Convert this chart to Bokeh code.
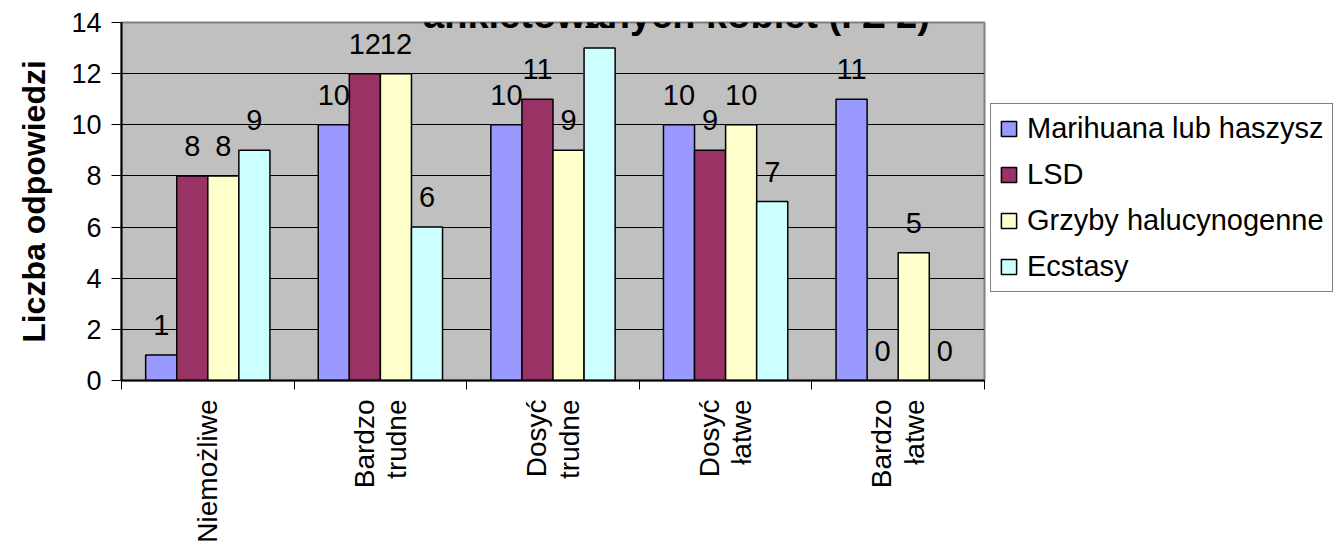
from bokeh.plotting import figure
from bokeh.models import (ColumnDataSource, FixedTicker, Legend, LegendItem, LabelSet, Label, Range1d)
from bokeh.transform import dodge
from bokeh.embed import file_html
from bokeh.resources import INLINE
from bokeh.core.properties import value

categories = ["Niemożliwe", "Bardzo\ntrudne", "Dosyć\ntrudne", "Dosyć\nłatwe", "Bardzo\nłatwe"]
series_names = ["Marihuana lub haszysz", "LSD", "Grzyby halucynogenne", "Ecstasy"]
marihuana = [1, 10, 10, 10, 11]
lsd = [8, 12, 11, 9, 0]
grzyby = [8, 12, 9, 10, 5]
ecstasy = [9, 6, 13, 7, 0]
colors = ["#9999FF", "#993366", "#FFFFCC", "#CCFFFF"]
y_ticks = [0, 2, 4, 6, 8, 10, 12, 14]
title_text = "ankietowanych kobiet (I Z 2)"
y_label = "Liczba odpowiedzi"

FONT = "Liberation Sans"
n = len(categories)
centers = [i + 0.5 for i in range(n)]
bounds = [float(i) for i in range(n + 1)]

src = ColumnDataSource(dict(xc=centers, m=marihuana, l=lsd, g=grzyby, e=ecstasy,
                            ml=[str(v) for v in marihuana], ll=[str(v) for v in lsd],
                            gl=[str(v) for v in grzyby], el=[str(v) for v in ecstasy]))

p = figure(frame_width=863, frame_height=358, output_backend="svg", toolbar_location=None,
           x_range=Range1d(0, n), y_range=Range1d(0, 14),
           min_border_left=121, min_border_right=342, min_border_top=22, min_border_bottom=163)
p.background_fill_color = "#C0C0C0"
p.border_fill_color = "white"
p.outline_line_color = "#808080"
p.outline_line_width = 2

p.xgrid.visible = False
p.ygrid.ticker = FixedTicker(ticks=y_ticks)
p.ygrid.grid_line_color = "black"
p.ygrid.grid_line_width = 1

# y axis
p.yaxis.ticker = FixedTicker(ticks=y_ticks)
p.yaxis.axis_line_color = "black"
p.yaxis.axis_line_width = 2
p.yaxis.major_tick_out = 10
p.yaxis.major_tick_in = 0
p.yaxis.minor_tick_line_color = None
p.yaxis.major_label_text_font = FONT
p.yaxis.major_label_text_font_size = "27px"
p.yaxis.major_label_text_color = "black"
p.yaxis.major_label_standoff = 10
p.yaxis.axis_label = y_label
p.yaxis.axis_label_text_font = FONT
p.yaxis.axis_label_text_font_style = "bold"
p.yaxis.axis_label_text_font_size = "32px"
p.yaxis.axis_label_text_color = "black"
p.yaxis.axis_label_standoff = 16

# x axis
p.xaxis.ticker = FixedTicker(ticks=centers, minor_ticks=bounds)
p.xaxis.major_label_overrides = {c: lab for c, lab in zip(centers, categories)}
p.xaxis.major_tick_line_color = None
p.xaxis.major_tick_out = 0
p.xaxis.major_tick_in = 0
p.xaxis.minor_tick_out = 9
p.xaxis.minor_tick_in = 0
p.xaxis.minor_tick_line_color = "black"
p.xaxis.minor_tick_line_width = 1
p.xaxis.axis_line_color = "black"
p.xaxis.axis_line_width = 2
p.xaxis.major_label_orientation = 1.5707963
p.xaxis.major_label_text_font = FONT
p.xaxis.major_label_text_font_size = "28px"
p.xaxis.major_label_text_line_height = 1.05
p.xaxis.major_label_text_color = "black"
p.xaxis.major_label_standoff = 10

offsets = [-0.27, -0.09, 0.09, 0.27]
fields = ["m", "l", "g", "e"]
lab_fields = ["ml", "ll", "gl", "el"]
items = []
for off, f, lf, c, name in zip(offsets, fields, lab_fields, colors, series_names):
    r = p.vbar(x=dodge("xc", off), top=f, width=0.18, bottom=0, source=src,
               fill_color=c, line_color="black", line_width=1.5)
    items.append(LegendItem(label=name, renderers=[r]))
    ls = LabelSet(x=dodge("xc", off), y=f, text=lf, source=src,
                  text_align="center", text_baseline="bottom", y_offset=20,
                  text_font=value(FONT), text_font_size="29px", text_color="black")
    p.add_layout(ls)

legend = Legend(items=items, location=(6, 88))
legend.label_text_font = FONT
legend.label_text_font_size = "29px"
legend.label_text_color = "black"
legend.glyph_width = 19
legend.glyph_height = 19
legend.label_height = 30
legend.label_standoff = 9
legend.spacing = 13
legend.padding = 8
legend.margin = 0
legend.border_line_color = "black"
legend.border_line_width = 1.5
legend.background_fill_color = "white"
legend.background_fill_alpha = 1
p.add_layout(legend, "right")

title = Label(x=555, y=366, x_units="screen", y_units="screen", text=title_text,
              text_align="center", text_baseline="alphabetic",
              text_font=FONT, text_font_style="bold", text_font_size="38px", text_color="black")
p.add_layout(title)

open("out.html", "w").write(file_html(p, INLINE))
